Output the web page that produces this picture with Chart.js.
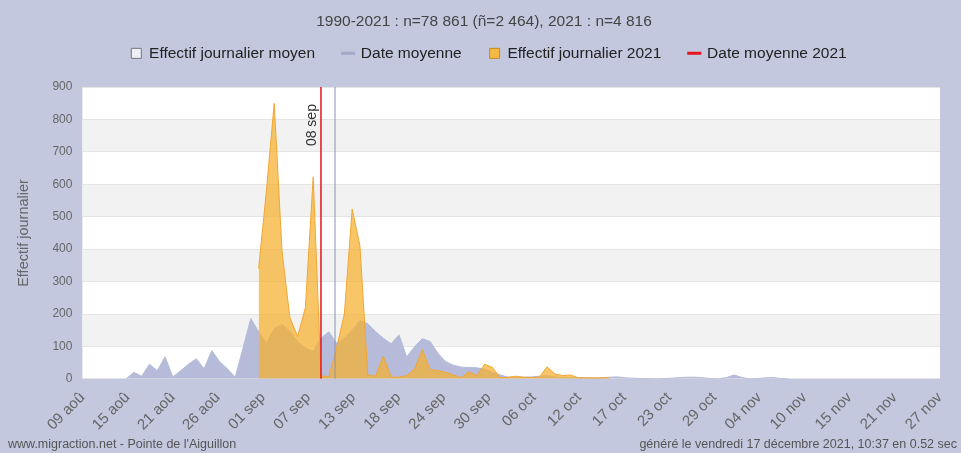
<!DOCTYPE html>
<html lang="fr">
<head>
<meta charset="utf-8">
<script src="https://cdn.jsdelivr.net/npm/chart.js@4.4.1/dist/chart.umd.min.js"></script>
<style>
  html, body { margin: 0; padding: 0; background: #c3c8df; }
  .wrap { position: relative; width: 961px; height: 453px; }
  .foot { position: absolute; bottom: 2px; font: 12.5px "Liberation Sans", Arial, sans-serif; color: #555; }
</style>
</head>
<body>
<div class="wrap">
  <canvas id="chart" width="961" height="453"></canvas>
  <div class="foot" style="left:8px">www.migraction.net - Pointe de l'Aiguillon</div>
  <div class="foot" style="right:4px">généré le vendredi 17 décembre 2021, 10:37 en 0.52 sec</div>
</div>
<script>
// jours comptés depuis le 09 aoû (indice 0)
const tickLabels = ['09 aoû', '15 aoû', '21 aoû', '26 aoû', '01 sep', '07 sep', '13 sep', '18 sep', '24 sep', '30 sep',
  '06 oct', '12 oct', '17 oct', '23 oct', '29 oct', '04 nov', '10 nov', '15 nov', '21 nov', '27 nov'];

// Effectif journalier moyen 1990-2021, à partir du jour 5
const avgStart = 5;
const avgValues = [0, 20, 8, 45, 25, 68, 6, 25, 45, 62, 31, 87, 53, 31, 5, 95, 186, 145, 110, 155,
  168, 146, 115, 95, 85, 125, 145, 110, 125, 150, 180, 170, 146, 125, 108, 136, 68, 99, 124, 115,
  79, 53, 42, 36, 35, 34, 30, 20, 12, 5, 4, 5, 6, 8, 10, 6, 4, 3, 4, 3,
  2, 3, 5, 6, 3, 2, 1, 1, 0, 1, 2, 4, 5, 5, 3, 1, 0, 4, 12, 4, 0, 1, 3, 4, 1, 0];

// Effectif journalier 2021, à partir du jour 22
const start2021 = 22;
const values2021 = [340, 580, 850, 394, 190, 130, 220, 622, 10, 5, 95, 200, 524, 410, 12, 8, 70, 5, 5, 10,
  30, 90, 28, 25, 20, 12, 3, 22, 10, 45, 35, 3, 5, 8, 5, 4, 5, 37, 15, 10, 12, 3, 3, 3, 3, 3];

const meanDayAvg = 31.8;
const meanDay2021 = 30;
const meanLabel2021 = '08 sep';

const xMin = -0.6;
const xMax = 109.4;
const yMax = 900;

const FONT = '"Liberation Sans", Arial, sans-serif';

// fond lavande, zone du graphique blanche, bandes alternées
const bgPlugin = {
  id: 'bg',
  beforeDraw(chart) {
    const { ctx, chartArea: a, scales: { y } } = chart;
    ctx.save();
    ctx.fillStyle = '#c3c8df';
    ctx.fillRect(0, 0, chart.width, chart.height);
    ctx.fillStyle = '#ffffff';
    ctx.fillRect(a.left, a.top, a.right - a.left, a.bottom - a.top);
    ctx.fillStyle = '#f2f2f2';
    y.ticks.forEach((t, i) => {
      if (i % 2 === 1 && i < y.ticks.length - 1) {
        const y1 = y.getPixelForValue(t.value);
        const y2 = y.getPixelForValue(y.ticks[i + 1].value);
        ctx.fillRect(a.left, y2, a.right - a.left, y1 - y2);
      }
    });
    ctx.restore();
  }
};

// texte "08 sep" le long de la ligne rouge
const meanLabelPlugin = {
  id: 'meanLabel',
  afterDatasetsDraw(chart) {
    const { ctx, chartArea: a, scales: { x } } = chart;
    const px = x.getPixelForValue(meanDay2021);
    ctx.save();
    ctx.translate(px - 2, a.top + 38);
    ctx.rotate(-Math.PI / 2);
    ctx.font = '14px ' + FONT;
    ctx.fillStyle = '#333';
    ctx.textAlign = 'center';
    ctx.textBaseline = 'bottom';
    ctx.fillText(meanLabel2021, 0, 0);
    ctx.restore();
  }
};

// marge sous la légende + léger décalage à droite du titre et de la légende
const headerPlugin = {
  id: 'header',
  beforeInit(chart) {
    const fit = chart.legend.fit;
    chart.legend.fit = function () {
      fit.bind(chart.legend)();
      this.height += 16;
    };
  },
  afterLayout(chart) {
    chart.titleBlock.left += 10;
    chart.titleBlock.right += 10;
    chart.legend.left += 15;
    chart.legend.right += 15;
  }
};

new Chart(document.getElementById('chart'), {
  type: 'line',
  data: {
    datasets: [
      {
        label: 'Effectif journalier moyen',
        data: avgValues.map((v, i) => ({ x: avgStart + i, y: v })),
        backgroundColor: '#b5bbd9',
        borderColor: '#b5bbd9',
        borderWidth: 1,
        fill: 'origin',
        pointRadius: 0,
        pointStyle: 'rect',
        legendFill: '#eef0f8',
        legendStroke: '#777',
        order: 4
      },
      {
        label: 'Date moyenne',
        data: [{ x: meanDayAvg, y: 0 }, { x: meanDayAvg, y: yMax }],
        borderColor: '#8d92b5',
        borderWidth: 1,
        fill: false,
        pointRadius: 0,
        pointStyle: 'line',
        legendStroke: '#a4a9c8',
        order: 2
      },
      {
        label: 'Effectif journalier 2021',
        data: values2021.map((v, i) => ({ x: start2021 + i, y: v })),
        backgroundColor: 'rgba(247, 176, 45, 0.72)',
        borderColor: '#f2a631',
        borderWidth: 1,
        fill: 'origin',
        pointRadius: 0,
        pointStyle: 'rect',
        legendFill: '#f7b946',
        legendStroke: '#c98a1a',
        order: 3
      },
      {
        label: 'Date moyenne 2021',
        data: [{ x: meanDay2021, y: 0 }, { x: meanDay2021, y: yMax }],
        borderColor: '#e8141c',
        borderWidth: 1.5,
        fill: false,
        pointRadius: 0,
        pointStyle: 'line',
        legendStroke: '#e8141c',
        order: 1
      }
    ]
  },
  options: {
    responsive: false,
    animation: false,
    devicePixelRatio: 1,
    layout: { padding: { left: 8, right: 21, top: 0, bottom: 17 } },
    scales: {
      x: {
        type: 'linear',
        min: xMin,
        max: xMax,
        afterBuildTicks: scale => {
          const step = (xMax - xMin) / (tickLabels.length - 1);
          scale.ticks = tickLabels.map((_, i) => ({ value: xMin + i * step }));
        },
        ticks: {
          callback: (v, i) => tickLabels[i],
          autoSkip: false,
          minRotation: 45,
          maxRotation: 45,
          padding: 2,
          color: '#666',
          font: { family: FONT, size: 15 }
        },
        grid: { display: false },
        border: { display: false }
      },
      y: {
        min: 0,
        max: yMax,
        ticks: {
          stepSize: 100,
          padding: 10,
          color: '#666',
          font: { family: FONT, size: 12 }
        },
        grid: { color: '#e4e4e4', drawTicks: false },
        border: { display: false },
        title: {
          display: true,
          text: 'Effectif journalier',
          color: '#666',
          font: { family: FONT, size: 14.5 },
          padding: { top: 7, bottom: 10 }
        }
      }
    },
    plugins: {
      title: {
        display: true,
        text: '1990-2021 : n=78 861 (ñ=2 464), 2021 : n=4 816',
        color: '#444',
        font: { family: FONT, size: 15.5, weight: 'normal' },
        padding: { top: 12, bottom: -13 }
      },
      legend: {
        labels: {
          usePointStyle: true,
          boxWidth: 10,
          boxHeight: 10,
          padding: 28,
          color: '#222',
          font: { family: FONT, size: 15.5 },
          sort: (a, b) => a.datasetIndex - b.datasetIndex,
          generateLabels: chart => {
            const items = Chart.defaults.plugins.legend.labels.generateLabels(chart);
            items.forEach(it => {
              const ds = chart.data.datasets[it.datasetIndex];
              if (ds.legendFill) it.fillStyle = ds.legendFill;
              if (ds.legendStroke) it.strokeStyle = ds.legendStroke;
              it.lineWidth = ds.pointStyle === 'line' ? 3 : 1;
            });
            return items;
          }
        },
        onClick: null
      },
      tooltip: { enabled: false }
    }
  },
  plugins: [bgPlugin, meanLabelPlugin, headerPlugin]
});
</script>
</body>
</html>
